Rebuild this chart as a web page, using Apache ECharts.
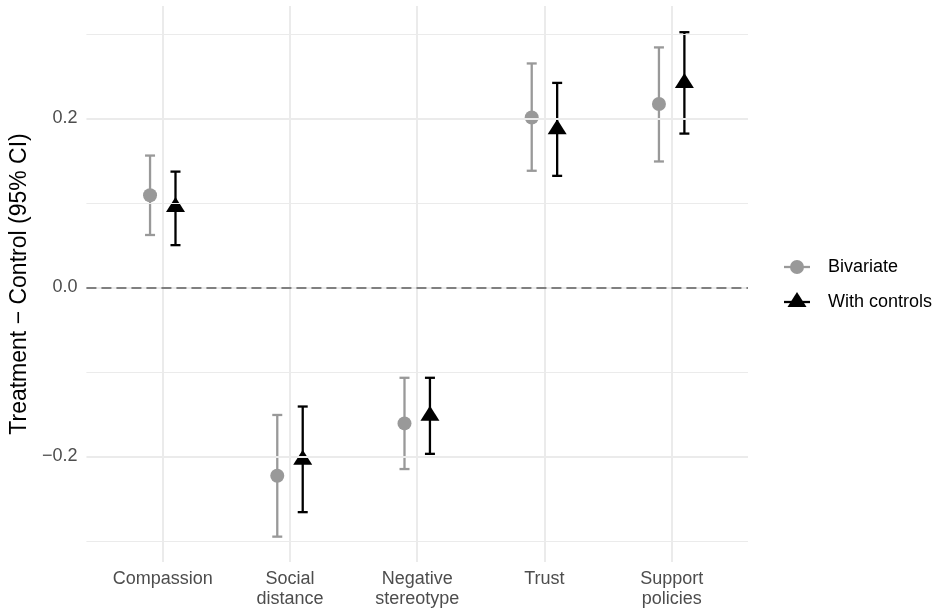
<!DOCTYPE html>
<html>
<head>
<meta charset="utf-8">
<script src="https://cdn.jsdelivr.net/npm/echarts@6/dist/echarts.min.js"></script>
<style>
html,body{margin:0;padding:0;background:#fff;}
#chart{width:936px;height:614px;}
</style>
</head>
<body>
<div id="chart"></div>
<script>
var categories = ["Compassion", "Social\ndistance", "Negative\nstereotype", "Trust", "Support\npolicies"];
var bivEst  = [0.109, -0.223, -0.161, 0.201, 0.217];
var bivLow  = [0.062, -0.295, -0.215, 0.138, 0.149];
var bivHigh = [0.156, -0.151, -0.107, 0.265, 0.284];
var ctlEst  = [0.095, -0.204, -0.152, 0.187, 0.242];
var ctlLow  = [0.050, -0.266, -0.197, 0.132, 0.182];
var ctlHigh = [0.137, -0.141, -0.107, 0.242, 0.302];
var yTicks = [-0.2, 0.0, 0.2];
var yMinor = [-0.3, -0.1, 0.1, 0.3];

var FONT = '"Liberation Sans", Arial, sans-serif';
var DODGE = 0.1;

function rows(est, lo, hi) {
  return categories.map(function (c, i) { return [i, est[i], lo[i], hi[i]]; });
}

function makeRender(offset, color, shape) {
  return function (params, api) {
    var i = api.value(0) + offset;
    var p = api.coord([i, api.value(1)]);
    var lo = api.coord([i, api.value(2)]);
    var hi = api.coord([i, api.value(3)]);
    var cap = 5;
    var ls = { stroke: color, lineWidth: 2.3 };
    var children = [
      { type: 'line', shape: { x1: lo[0], y1: lo[1], x2: hi[0], y2: hi[1] }, style: ls },
      { type: 'line', shape: { x1: lo[0] - cap, y1: lo[1], x2: lo[0] + cap, y2: lo[1] }, style: ls },
      { type: 'line', shape: { x1: hi[0] - cap, y1: hi[1], x2: hi[0] + cap, y2: hi[1] }, style: ls }
    ];
    if (shape === 'circle') {
      children.push({ type: 'circle', shape: { cx: p[0], cy: p[1], r: 7 }, style: { fill: color } });
    } else {
      var w = 19, h = 15;
      children.push({ type: 'polygon', shape: { points: [[p[0], p[1] - 2 * h / 3], [p[0] - w / 2, p[1] + h / 3], [p[0] + w / 2, p[1] + h / 3]] }, style: { fill: color } });
    }
    return { type: 'group', children: children };
  };
}

var gridLines = [];
categories.forEach(function (c, i) {
  gridLines.push({ xAxis: i, lineStyle: { color: '#ebebeb', width: 2, type: 'solid' } });
});
yTicks.forEach(function (v) {
  gridLines.push({ yAxis: v, lineStyle: { color: '#ebebeb', width: 2, type: 'solid' } });
});
yMinor.forEach(function (v) {
  gridLines.push({ yAxis: v, lineStyle: { color: '#ebebeb', width: 1, type: 'solid' } });
});

var chart = echarts.init(document.getElementById('chart'), null, { renderer: 'canvas' });
chart.setOption({
  animation: false,
  backgroundColor: '#ffffff',
  grid: { left: 84, right: 188, top: 6, bottom: 52, containLabel: false },
  xAxis: {
    type: 'value', min: -0.6, max: 4.6,
    axisLine: { show: false }, axisTick: { show: false }, splitLine: { show: false },
    axisLabel: {
      customValues: [0, 1, 2, 3, 4],
      formatter: function (v) { return categories[Math.round(v)]; },
      color: '#4d4d4d', fontFamily: FONT, fontSize: 18, lineHeight: 20,
      margin: 7, verticalAlign: 'top', align: 'center'
    }
  },
  yAxis: {
    type: 'value', min: -0.325, max: 0.333,
    name: 'Treatment \u2212 Control (95% CI)', nameLocation: 'middle', nameGap: 47,
    nameTextStyle: { color: '#000', fontFamily: FONT, fontSize: 23 },
    axisLine: { show: false }, axisTick: { show: false }, splitLine: { show: false },
    axisLabel: {
      customValues: yTicks,
      formatter: function (v) { var s = Math.abs(v).toFixed(1); return v < -1e-9 ? '\u2212' + s : s; },
      color: '#4d4d4d', fontFamily: FONT, fontSize: 18, margin: 9
    }
  },
  series: [
    {
      type: 'line', data: [], z: 1, silent: true,
      markLine: { silent: true, symbol: 'none', label: { show: false }, emphasis: { disabled: true }, data: gridLines, animation: false }
    },
    {
      type: 'line', data: [], z: 2, silent: true,
      markLine: { silent: true, symbol: 'none', label: { show: false }, emphasis: { disabled: true }, animation: false,
        data: [{ yAxis: 0, lineStyle: { color: '#808080', width: 2.2, type: [10, 5] } }] }
    },
    {
      name: 'Bivariate', type: 'custom', z: 3,
      renderItem: makeRender(-DODGE, '#999999', 'circle'),
      encode: { x: 0, y: [1, 2, 3] },
      data: rows(bivEst, bivLow, bivHigh)
    },
    {
      name: 'With controls', type: 'custom', z: 4,
      renderItem: makeRender(DODGE, '#000000', 'triangle'),
      encode: { x: 0, y: [1, 2, 3] },
      data: rows(ctlEst, ctlLow, ctlHigh)
    }
  ],
  graphic: [
    { type: 'line', shape: { x1: 784, y1: 267, x2: 810, y2: 267 }, style: { stroke: '#999999', lineWidth: 2.3 } },
    { type: 'circle', shape: { cx: 797, cy: 267, r: 7 }, style: { fill: '#999999' } },
    { type: 'text', x: 828, y: 267, style: { text: 'Bivariate', fill: '#000', font: '18px ' + FONT, verticalAlign: 'middle' } },
    { type: 'line', shape: { x1: 784, y1: 302, x2: 810, y2: 302 }, style: { stroke: '#000', lineWidth: 2.3 } },
    { type: 'polygon', shape: { points: [[797, 292], [787.5, 307], [806.5, 307]] }, style: { fill: '#000' } },
    { type: 'text', x: 828, y: 302, style: { text: 'With controls', fill: '#000', font: '18px ' + FONT, verticalAlign: 'middle' } }
  ]
});
</script>
</body>
</html>
